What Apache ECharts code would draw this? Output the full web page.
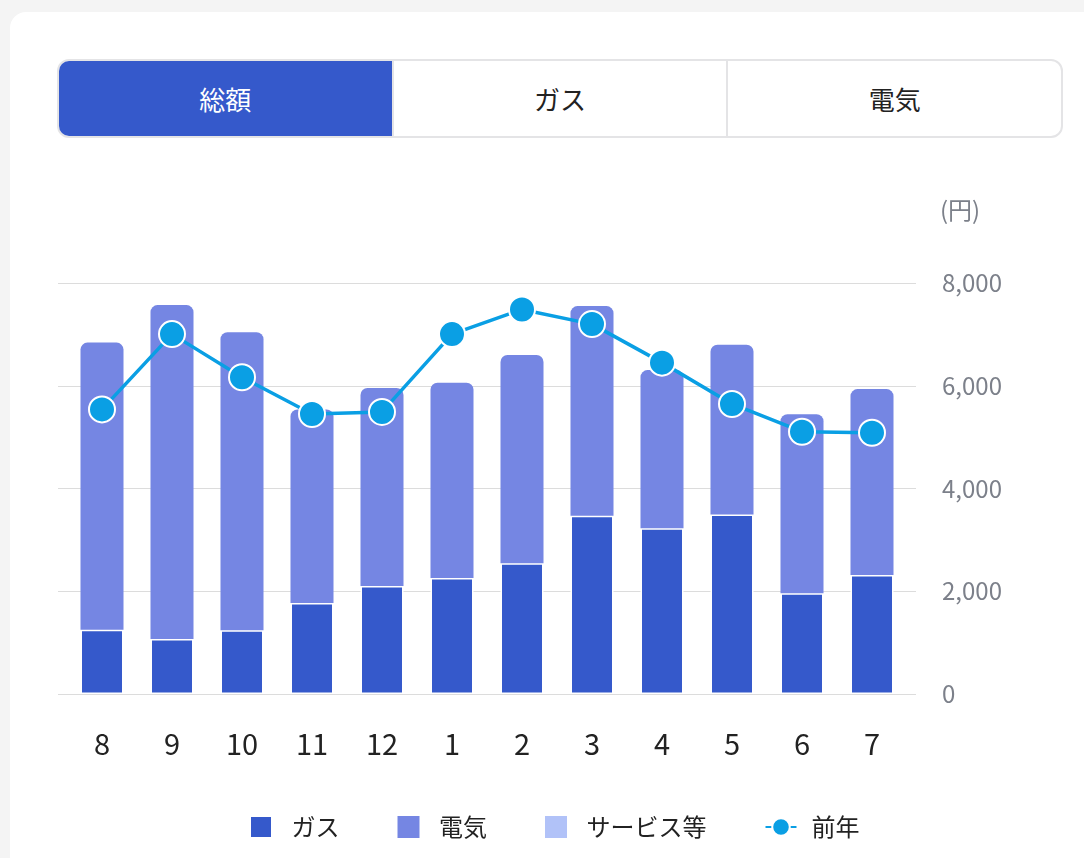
<!DOCTYPE html>
<html lang="ja">
<head>
<meta charset="utf-8">
<script src="https://cdn.jsdelivr.net/npm/echarts@6/dist/echarts.min.js"></script>
<style>
  html,body{margin:0;padding:0;width:1084px;height:858px;overflow:hidden;background:#f4f4f4;
    font-family:"Noto Sans CJK JP","Noto Sans",sans-serif;}
  #card{position:absolute;left:10px;top:12px;width:1100px;height:900px;background:#fff;border-radius:16px;}
  #tabs{position:absolute;left:57px;top:59px;width:1002px;height:75px;border:2px solid #e4e4e6;border-radius:12px;
    display:flex;overflow:hidden;background:#fff;}
  .tab{flex:1;display:flex;align-items:center;justify-content:center;font-size:26px;color:#222;}
  .tab + .tab{border-left:2px solid #e4e4e6;}
  .tab.active{background:#3559CB;color:#fff;}
  #chart{position:absolute;left:0;top:0;width:1084px;height:858px;}
</style>
</head>
<body>
<div id="card"></div>
<div id="tabs"><div class="tab active">総額</div><div class="tab">ガス</div><div class="tab">電気</div></div>
<div id="chart"></div>
<script>
const months = ['8','9','10','11','12','1','2','3','4','5','6','7'];
const gas = [1250, 1070, 1240, 1770, 2100, 2260, 2545, 3470, 3225, 3495, 1960, 2315];
const electricity = [5590, 6500, 5800, 3770, 3855, 3800, 4055, 4080, 3080, 3305, 3485, 3620];
const service = [0, 0, 0, 0, 0, 0, 0, 0, 0, 0, 0, 0];
const lastYear = [5540, 7005, 6165, 5450, 5490, 7005, 7485, 7200, 6450, 5645, 5105, 5085];
const yTicks = [0, 2000, 4000, 6000, 8000];

const chart = echarts.init(document.getElementById('chart'), null, {renderer:'canvas'});
const FONT = '"Noto Sans CJK JP","Noto Sans",sans-serif';
chart.setOption({
  animation:false,
  textStyle:{fontFamily:FONT},
  graphic:[{type:'text', left:940, top:198, style:{text:'(円)', fontSize:24, fill:'#7c808a', fontFamily:FONT}}],
  grid:[
    {left:58, right:168, top:283, bottom:164},
    {left:67, right:177, top:283, bottom:164}
  ],
  xAxis:[
    {type:'category', gridIndex:0, data:months, show:false},
    {type:'category', gridIndex:1, data:months,
      axisLine:{show:false}, axisTick:{show:false},
      axisLabel:{fontSize:29, color:'#222', margin:35, fontFamily:FONT}}
  ],
  yAxis:[
    {type:'value', gridIndex:0, position:'right', min:yTicks[0], max:yTicks[yTicks.length-1], interval:2000,
      axisLine:{show:false}, axisTick:{show:false},
      splitLine:{lineStyle:{color:'#dcdcdc', width:1}},
      axisLabel:{fontSize:24, color:'#7c808a', margin:26, fontFamily:FONT,
        formatter:v=>v.toLocaleString('en-US')}},
    {type:'value', gridIndex:1, min:0, max:8000, interval:2000, show:false, splitLine:{show:false}}
  ],
  legend:{
    left:244, top:810, itemWidth:31, itemHeight:22, itemGap:58,
    textStyle:{fontSize:24, color:'#222', padding:[0,0,0,10], fontFamily:FONT},
    data:[
      {name:'ガス', icon:'path://M0,0H10V10H0Z'},
      {name:'電気', icon:'path://M0,0H10V10H0Z'},
      {name:'サービス等', icon:'path://M0,0H10V10H0Z'},
      {name:'前年'}
    ]
  },
  series:[
    {name:'ガス', type:'bar', stack:'total', xAxisIndex:1, yAxisIndex:1, data:gas, barWidth:43,
      itemStyle:{color:'#3559CB', borderColor:'#fff', borderWidth:1.5}},
    {name:'電気', type:'bar', stack:'total', xAxisIndex:1, yAxisIndex:1, data:electricity, barWidth:43,
      itemStyle:{color:'#7586E3', borderRadius:[7,7,0,0]}},
    {name:'サービス等', type:'bar', stack:'total', xAxisIndex:1, yAxisIndex:1, data:service, barWidth:43,
      itemStyle:{color:'#B1C2F8'}},
    {name:'前年', type:'line', xAxisIndex:1, yAxisIndex:1, data:lastYear, z:5,
      symbol:'circle', symbolSize:26,
      lineStyle:{color:'#0A9FE4', width:3.5},
      itemStyle:{color:'#0A9FE4', borderColor:'#fff', borderWidth:2}}
  ]
});
</script>
</body>
</html>
